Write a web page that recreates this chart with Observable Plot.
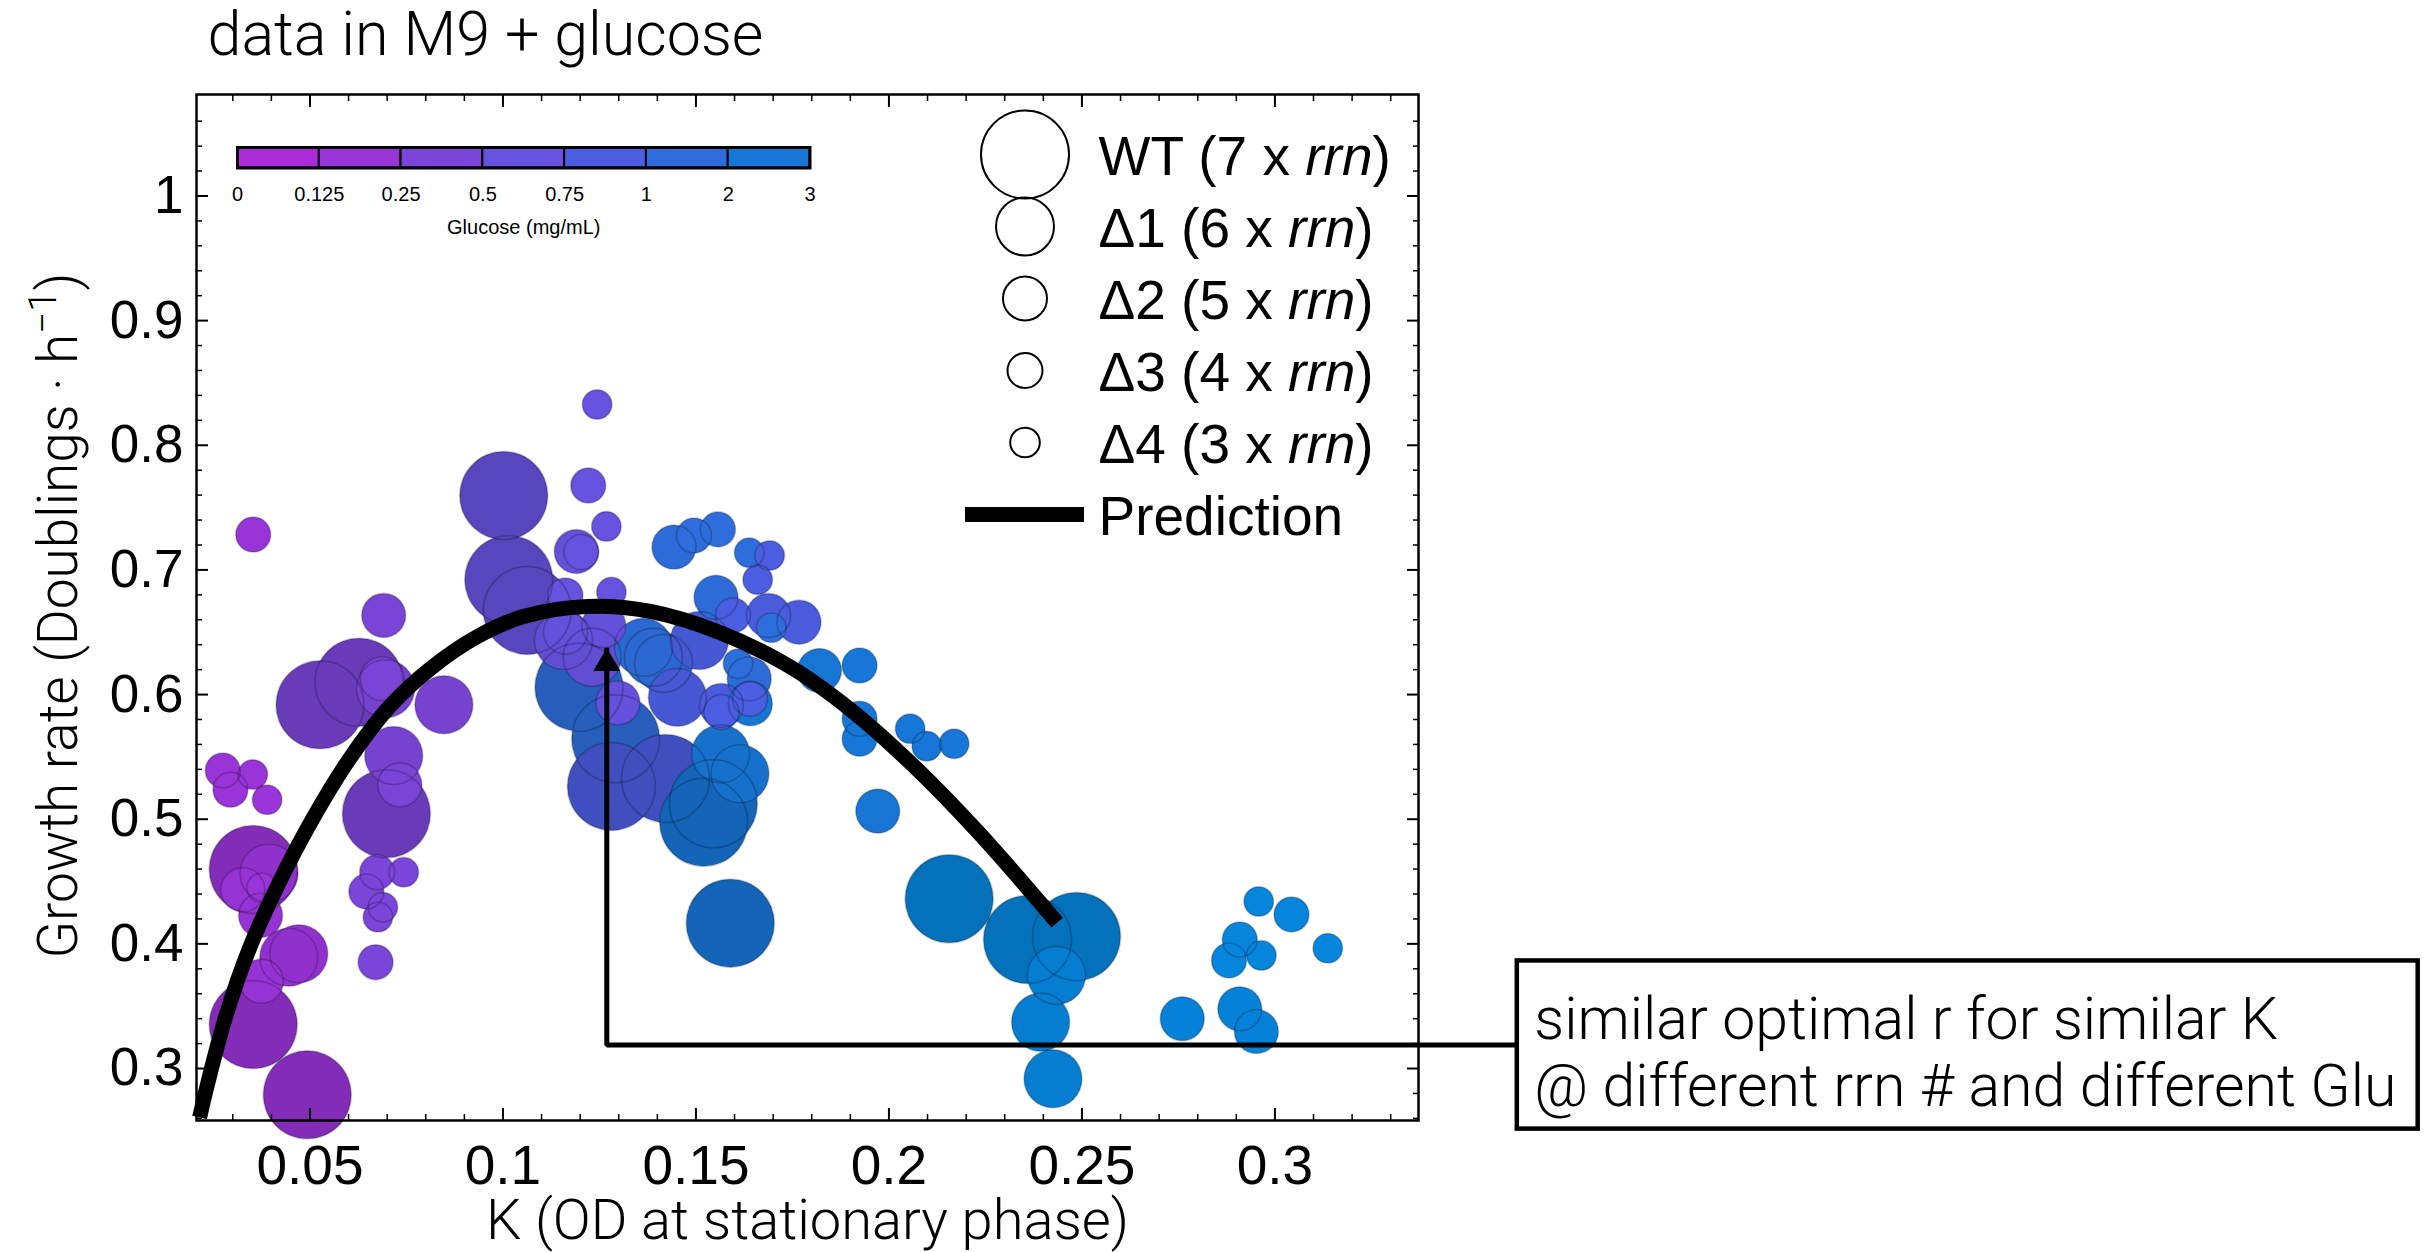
<!DOCTYPE html>
<html>
<head>
<meta charset="utf-8">
<script src="https://cdn.jsdelivr.net/npm/d3@7"></script>
<script src="https://cdn.jsdelivr.net/npm/@observablehq/plot@0.6"></script>
<style>
  html, body { margin: 0; padding: 0; background: #fff; }
  #figure { position: relative; width: 2426px; height: 1252px; overflow: hidden; }
  #figure svg { position: absolute; overflow: visible; }
</style>
</head>
<body>
<div id="figure"></div>
<script>
// ---- Measurements: K (OD at stationary phase), growth rate, glucose and rrn copy number ----
const K = [
  0.0353, 0.0274, 0.0352, 0.0294, 0.0389, 0.0353, 0.0394, 0.0326, 0.0375, 0.0372, 0.0471, 0.0445, 0.0374, 0.0353, 0.0493,
  0.0526, 0.0627, 0.0687, 0.0696, 0.0691, 0.0847, 0.0717, 0.0733, 0.0698, 0.0674, 0.0743, 0.0646, 0.0689, 0.0676, 0.0670,
  0.1002, 0.1015, 0.1063, 0.1244, 0.1221, 0.1268, 0.1190, 0.1203, 0.1162, 0.1281, 0.1162, 0.1157, 0.1231, 0.1261, 0.1298,
  0.1197, 0.1292, 0.1364, 0.1390, 0.1416, 0.1443, 0.1495, 0.1557, 0.1638, 0.1552, 0.1695, 0.1609, 0.1638,
  0.1281, 0.1421, 0.1691, 0.1660, 0.1596, 0.1688, 0.1767, 0.1509, 0.1452, 0.1566, 0.1640, 0.1566,
  0.1641, 0.1564, 0.1614, 0.1545, 0.1520, 0.1589, 0.1820, 0.1924, 0.1924, 0.1924, 0.2055, 0.2098, 0.2169, 0.1971,
  0.2156, 0.2359, 0.2486, 0.2434, 0.2393, 0.2425, 0.2760, 0.2909, 0.2952, 0.2958, 0.3043, 0.2909, 0.2881, 0.2965, 0.3137
];
const growthRate = [
  0.7284, 0.5391, 0.5359, 0.5236, 0.5156, 0.4597, 0.4567, 0.4434, 0.4450, 0.4228, 0.3921, 0.3893, 0.3701, 0.3353, 0.2789,
  0.5918, 0.6099, 0.6127, 0.6047, 0.6635, 0.5918, 0.5511, 0.5276, 0.5044, 0.4575, 0.4575, 0.4420, 0.4294, 0.4214, 0.3853,
  0.7597, 0.6921, 0.6675, 0.8327, 0.7677, 0.7349, 0.7148, 0.7143, 0.6795, 0.6822, 0.6501, 0.6434, 0.6300, 0.6554, 0.5934,
  0.6059, 0.5645, 0.6380, 0.6300, 0.6250, 0.7183, 0.7276, 0.7325, 0.7138, 0.6781, 0.6536, 0.6247, 0.6127,
  0.5263, 0.5327, 0.7116, 0.6921, 0.6635, 0.6635, 0.6581, 0.6434, 0.5979, 0.5913, 0.5966, 0.5859,
  0.5926, 0.5525, 0.5365, 0.5124, 0.4976, 0.4166, 0.6193, 0.6233, 0.5806, 0.5645, 0.5726, 0.5586, 0.5605, 0.5065,
  0.4362, 0.4035, 0.4059, 0.3747, 0.3372, 0.2918, 0.3399, 0.3479, 0.3297, 0.4340, 0.4236, 0.4035, 0.3867, 0.3907, 0.3965
];
const glucose = [
  0.125, 0.125, 0.125, 0.125, 0.125, 0.125, 0.125, 0.125, 0.125, 0.125, 0.125, 0.125, 0.125, 0.125, 0.125,
  0.25, 0.25, 0.25, 0.25, 0.25, 0.25, 0.25, 0.25, 0.25, 0.25, 0.25, 0.25, 0.25, 0.25, 0.25,
  0.5, 0.5, 0.5, 0.5, 0.5, 0.5, 0.5, 0.5, 0.5, 0.5, 0.5, 0.5, 0.5, 0.5, 0.5,
  1, 1, 1, 1, 1, 1, 1, 1, 1, 1, 1, 1, 1,
  0.75, 0.75, 0.75, 0.75, 0.75, 0.75, 0.75, 0.75, 0.75, 0.75, 0.75, 0.75,
  2, 2, 2, 2, 2, 2, 2, 2, 2, 2, 2, 2, 2, 2,
  3, 3, 3, 3, 3, 3, 3, 3, 3, 3, 3, 3, 3, 3, 3
];
const rrnCopies = [
  4, 4, 3, 4, 3, 7, 6, 5, 3, 5, 6, 6, 5, 7, 7,
  7, 7, 5, 6, 5, 6, 6, 5, 7, 4, 3, 4, 3, 3, 4,
  7, 7, 7, 3, 4, 3, 5, 4, 4, 3, 5, 6, 6, 5, 5,
  7, 7, 6, 6, 6, 5, 4, 4, 3, 5, 3, 3, 5,
  7, 7, 3, 3, 4, 5, 5, 6, 6, 5, 4, 4,
  5, 6, 6, 7, 7, 7, 5, 4, 4, 4, 3, 3, 3, 5,
  7, 7, 7, 6, 6, 6, 5, 5, 5, 3, 4, 4, 4, 3, 3
];

// Model prediction of growth rate vs K
const predK    = [0.0214, 0.0235, 0.0281, 0.0341, 0.0419, 0.0509, 0.0605, 0.0709, 0.0812, 0.0934, 0.1053, 0.1219, 0.1382, 0.1560, 0.1740, 0.1900, 0.2060, 0.2230, 0.2436];
const predRate = [0.2607, 0.2880, 0.3410, 0.3947, 0.4485, 0.5014, 0.5496, 0.5913, 0.6209, 0.6466, 0.6626, 0.6707, 0.6667, 0.6500, 0.6230, 0.5880, 0.5440, 0.4900, 0.4170];

// Glucose colour key (mg/mL) and strains
const glucoseTicks = [0, 0.125, 0.25, 0.5, 0.75, 1, 2, 3];
const strainNames = ["WT (7 x rrn)", "Δ1 (6 x rrn)", "Δ2 (5 x rrn)", "Δ3 (4 x rrn)", "Δ4 (3 x rrn)"];
const strainRrn = [7, 6, 5, 4, 3];
const predictionName = "Prediction";

// Axis ticks
const xTicks = [0.05, 0.1, 0.15, 0.2, 0.25, 0.3];
const yTicks = [0.3, 0.4, 0.5, 0.6, 0.7, 0.8, 0.9, 1];

// Text
const title = "data in M9 + glucose";
const xTitle = "K (OD at stationary phase)";
const yTitle = "Growth rate (Doublings · h−1)";
const colorbarTitle = "Glucose (mg/mL)";
const calloutText = "similar optimal r for similar K\n@ different rrn # and different Glu";

// Callout: a box in the right margin joined to the optimum by an elbow arrow
const calloutPath = [{K: 0.3628, rate: 0.3189}, {K: 0.1269, rate: 0.3189}, {K: 0.1269, rate: 0.6375}];
const calloutBox = [{x1: 0.3628, x2: 0.5962, y1: 0.2514, y2: 0.3863}];

// ---- Scales and styles ----
const palette = ["#ac2bd9", "#9934d8", "#7c45da", "#6652de", "#4b5de0", "#2e6ddc", "#1777d8", "#0585dc"];
const colorScale = {type: "ordinal", domain: glucoseTicks, range: palette};
const rScale = {type: "linear", domain: [3, 4, 5, 6, 7], range: [14.8, 17.5, 22, 29, 44], zero: false};
const strainShade = {7: 0.85, 6: 0.95, 5: 0.98, 4: 1, 3: 1};
const font = "'Liberation Sans', Arial, Helvetica, sans-serif";
const lightFont = "Roboto, 'Liberation Sans', Arial, sans-serif";

const points = K.map((k, i) => ({K: k, rate: growthRate[i], glucose: glucose[i], rrn: rrnCopies[i]}));
const prediction = predK.map((k, i) => ({K: k, rate: predRate[i]}));

const xMinor = d3.range(3, 34).map(i => i / 100).filter(v => !xTicks.some(t => Math.abs(t - v) < 1e-9));
const yMinor = d3.range(13, 54).map(i => i / 50).filter(v => !yTicks.some(t => Math.abs(t - v) < 1e-9));

// Large strains first so smaller circles sit on top
const strainLayers = strainRrn.map(n => Plot.dot(points.filter(d => d.rrn === n), {
  x: "K", y: "rate", r: "rrn", fill: "glucose",
  imageFilter: strainShade[n] < 1 ? `brightness(${strainShade[n]})` : undefined
}));

const fmt = d3.format("~g");

const main = Plot.plot({
  width: 2426, height: 1252,
  marginLeft: 196, marginRight: 1008, marginTop: 94, marginBottom: 132,
  style: {fontFamily: font, background: "transparent", color: "#000"},
  x: {domain: [0.0206, 0.3372]},
  y: {domain: [0.2583, 1.0814]},
  r: rScale,
  color: colorScale,
  marks: [
    ...strainLayers,
    Plot.dot(points.slice().sort((a, b) => b.rrn - a.rrn), {x: "K", y: "rate", r: "rrn", fill: "none", stroke: "#000", strokeOpacity: 0.22, strokeWidth: 1.6}),
    Plot.line(prediction, {x: "K", y: "rate", stroke: "#000", strokeWidth: 15, curve: "catmull-rom", strokeLinecap: "butt"}),
    Plot.frame({stroke: "#000", strokeWidth: 2.5}),
    Plot.axisX(xTicks, {anchor: "bottom", tickSize: -12, tickPadding: 36, strokeWidth: 2, fontSize: 55, tickFormat: fmt, label: null}),
    Plot.axisX(xMinor, {anchor: "bottom", tickSize: -6, strokeWidth: 1.5, fill: "none", label: null}),
    Plot.axisX(xTicks, {anchor: "top", tickSize: -12, strokeWidth: 2, fill: "none", label: null}),
    Plot.axisX(xMinor, {anchor: "top", tickSize: -6, strokeWidth: 1.5, fill: "none", label: null}),
    Plot.axisY(yTicks, {anchor: "left", tickSize: -12, tickPadding: 25, strokeWidth: 2, fontSize: 53, tickFormat: fmt, label: null}),
    Plot.axisY(yMinor, {anchor: "left", tickSize: -6, strokeWidth: 1.5, fill: "none", label: null}),
    Plot.axisY(yTicks, {anchor: "right", tickSize: -12, strokeWidth: 2, fill: "none", label: null}),
    Plot.axisY(yMinor, {anchor: "right", tickSize: -6, strokeWidth: 1.5, fill: "none", label: null}),
    Plot.text([title], {frameAnchor: "top-left", dx: 11, dy: -40, lineAnchor: "bottom", textAnchor: "start", fontSize: 61, fontFamily: lightFont, fontWeight: 300}),
    Plot.text([xTitle], {frameAnchor: "bottom", dy: 118, lineAnchor: "bottom", fontSize: 56, fontFamily: lightFont, fontWeight: 300}),
    Plot.text([yTitle], {frameAnchor: "left", dx: -137, dy: 8, rotate: -90, textAnchor: "middle", fontSize: 55, fontFamily: lightFont, fontWeight: 300}),
    // callout
    Plot.line(calloutPath, {x: "K", y: "rate", stroke: "#000", strokeWidth: 5, strokeLinecap: "butt", strokeLinejoin: "miter"}),
    Plot.dot([calloutPath[2]], {x: "K", y: "rate", symbol: "triangle", r: 10, fill: "#000", dy: 15.5}),
    Plot.rect(calloutBox, {x1: "x1", x2: "x2", y1: "y1", y2: "y2", fill: "#fff", stroke: "#000", strokeWidth: 4.5}),
    Plot.text(calloutBox, {x: "x1", y: "y2", text: () => calloutText, textAnchor: "start", lineAnchor: "top", dx: 17, dy: 30, fontSize: 59, lineHeight: 1.14, fontFamily: lightFont, fontWeight: 300})
  ]
});
main.style.left = "0px";
main.style.top = "0px";

// superscript on the y title
main.querySelectorAll("text").forEach(t => {
  if (t.textContent === yTitle) {
    t.innerHTML = 'Growth rate (Doublings · h<tspan dy="-0.55em" font-size="0.7em">−1</tspan><tspan dy="0.385em">)</tspan>';
  }
});

// ---- Size legend (strains) and prediction swatch ----
const legendRows = strainNames.map((name, i) => ({name, rrn: strainRrn[i]}));
const legend = Plot.plot({
  width: 500, height: 480,
  marginLeft: 25, marginRight: 356, marginTop: 0, marginBottom: 0,
  style: {fontFamily: font, background: "transparent", color: "#000"},
  y: {type: "point", domain: [...strainNames, predictionName], range: [74, 434], padding: 0, axis: null},
  r: rScale,
  marks: [
    Plot.dot(legendRows, {y: "name", r: "rrn", frameAnchor: "middle", fill: "none", stroke: "#000", strokeWidth: 2}),
    Plot.ruleY([predictionName], {y: d => d, stroke: "#000", strokeWidth: 15}),
    Plot.text([...strainNames, predictionName], {y: d => d, frameAnchor: "right", dx: 14, dy: 3, textAnchor: "start", fontSize: 55})
  ]
});
legend.style.left = "940px";
legend.style.top = "80px";
legend.querySelectorAll("text").forEach(t => {
  if (t.textContent.includes("rrn")) t.innerHTML = t.textContent.replace("rrn", '<tspan font-style="italic">rrn</tspan>');
});

// ---- Glucose colour bar ----
const segments = d3.range(glucoseTicks.length - 1).map(i => ({i0: i, i1: i + 1, glucose: glucoseTicks[i]}));
const colorbar = Plot.plot({
  width: 621, height: 110,
  marginLeft: 24, marginRight: 24.5, marginTop: 10, marginBottom: 79.5,
  style: {fontFamily: font, background: "transparent", color: "#000"},
  x: {domain: [0, glucoseTicks.length - 1], axis: null},
  color: colorScale,
  marks: [
    Plot.rect(segments, {x1: "i0", x2: "i1", fill: "glucose", stroke: "#000", strokeWidth: 2}),
    Plot.frame({stroke: "#000", strokeWidth: 3}),
    Plot.text(glucoseTicks, {x: (d, i) => i, text: d => fmt(d), frameAnchor: "bottom", dy: 32.7, lineAnchor: "bottom", fontSize: 20}),
    Plot.text([colorbarTitle], {frameAnchor: "bottom", dy: 65.5, lineAnchor: "bottom", fontSize: 20})
  ]
});
colorbar.style.left = "213px";
colorbar.style.top = "137px";

const fig = document.getElementById("figure");
fig.append(main, colorbar, legend);
</script>
</body>
</html>
